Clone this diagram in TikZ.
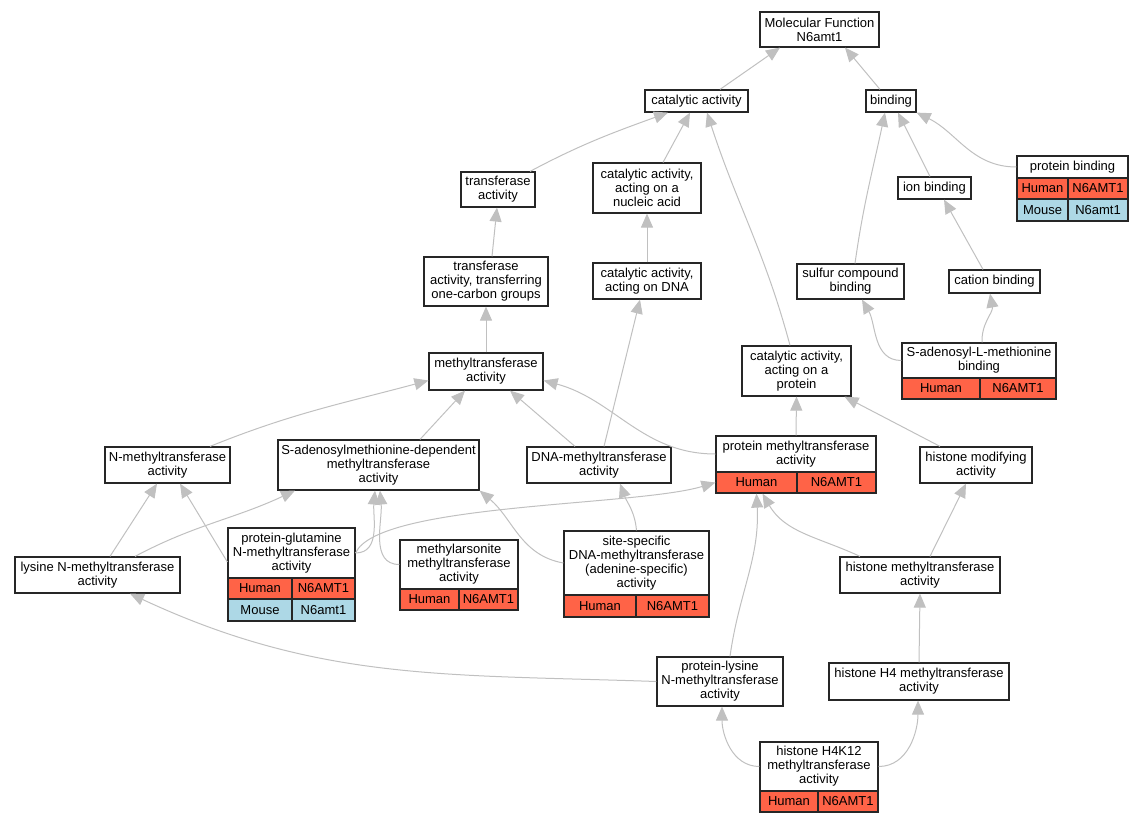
\documentclass[tikz,border=0pt]{standalone}
\usepackage{fontspec}
\setmainfont{Liberation Sans}
\usetikzlibrary{arrows.meta}
\definecolor{human}{HTML}{FF6347}
\definecolor{mouse}{HTML}{ADD8E6}
\definecolor{edgegray}{HTML}{C0C0C0}
\newcommand*{\GeneCells}[5]{% #1 = name, #2/#3/#4 = left/split/right x, #5 = list of ytop/ybot/color/species/gene
  \foreach \yt/\yb/\col/\sp/\gn [count=\i] in {#5} {
    \node [cell, fill=\col, minimum width={#3-#2}, minimum height={\yb-\yt}]
      (#1-s\i) at ({(#2+#3)/2},{-(\yt+\yb)/2}) {\sp};
    \node [cell, fill=\col, minimum width={#4-#3}, minimum height={\yb-\yt}]
      (#1-g\i) at ({(#3+#4)/2},{-(\yt+\yb)/2}) {\gn};
    }%
}

\begin{document}
\begin{tikzpicture}[x=1pt,y=1pt,
    term/.style={draw=black!85, line width=1.2pt, fill=white, align=center,
      inner sep=0pt, font=\fontsize{13}{14}\selectfont},
    cell/.style={term},
    isa/.style={draw=edgegray, line width=1pt, -{Triangle[length=14pt,width=12pt,fill=edgegray]}}]
        \useasboundingbox (0,0) rectangle (1144,-824);
        % terms
        \node[term, minimum width=119, minimum height=35] (mf) at (819.5,-29.5) {Molecular Function\\N6amt1};
        \node[term, minimum width=103, minimum height=22] (cat) at (696.5,-101) {catalytic activity};
        \node[term, minimum width=50, minimum height=22] (bind) at (891,-101) {binding};
        \node[term, minimum width=74, minimum height=35] (trans) at (498,-189.5) {transferase\\activity};
        \node[term, minimum width=108, minimum height=50] (nucl) at (647,-188) {catalytic activity,\\acting on a\\nucleic acid};
        \node[term, minimum width=73, minimum height=22] (ionb) at (934.5,-188) {ion binding};
        \node[term, minimum width=124, minimum height=49] (onec) at (486,-281.5) {transferase\\activity, transferring\\one-carbon groups};
        \node[term, minimum width=108, minimum height=36] (dna) at (647,-281) {catalytic activity,\\acting on DNA};
        \node[term, minimum width=107, minimum height=35] (sulf) at (850.5,-281.5) {sulfur compound\\binding};
        \node[term, minimum width=91, minimum height=23] (catb) at (994.5,-281.5) {cation binding};
        \node[term, minimum width=114, minimum height=37] (meth) at (486,-371.5) {methyltransferase\\activity};
        \node[term, minimum width=109, minimum height=50] (prot) at (796.5,-371) {catalytic activity,\\acting on a\\protein};
        \node[term, minimum width=125, minimum height=36] (nmeth) at (167.5,-465) {N-methyltransferase\\activity};
        \node[term, minimum width=201, minimum height=50] (sam) at (378.5,-465) {S-adenosylmethionine-dependent\\methyltransferase\\activity};
        \node[term, minimum width=144, minimum height=36] (dnam) at (599,-465) {DNA-methyltransferase\\activity};
        \node[term, minimum width=112, minimum height=36] (hmod) at (976,-465) {histone modifying\\activity};
        \node[term, minimum width=165, minimum height=36] (lys) at (97.5,-575) {lysine N-methyltransferase\\activity};
        \node[term, minimum width=160, minimum height=36] (hmt) at (920,-575) {histone methyltransferase\\activity};
        \node[term, minimum width=126, minimum height=49] (plys) at (720,-681.5) {protein-lysine\\N-methyltransferase\\activity};
        \node[term, minimum width=180, minimum height=37] (h4) at (919,-681.5) {histone H4 methyltransferase\\activity};
        % terms with genes
        \node[term, minimum width=111, minimum height=22] (pbind) at (1072.5,-167) {protein binding};
        \GeneCells{pbind}{1017}{1068}{1128}{178/199/human/Human/N6AMT1, 199/221/mouse/Mouse/N6amt1}
        \node[term, minimum width=154, minimum height=35] (samb) at (979,-360.5) {S-adenosyl-L-methionine\\binding};
        \GeneCells{samb}{902}{980}{1056}{378/399/human/Human/N6AMT1}
        \node[term, minimum width=160, minimum height=36] (pmt) at (796,-454) {protein methyltransferase\\activity};
        \GeneCells{pmt}{716}{797}{876}{472/493/human/Human/N6AMT1}
        \node[term, minimum width=127, minimum height=50] (pgln) at (291.5,-553) {protein-glutamine\\N-methyltransferase\\activity};
        \GeneCells{pgln}{228}{292}{355}{578/599/human/Human/N6AMT1, 599/621/mouse/Mouse/N6amt1}
        \node[term, minimum width=118, minimum height=49] (mars) at (459,-564.5) {methylarsonite\\methyltransferase\\activity};
        \GeneCells{mars}{400}{459}{518}{589/610/human/Human/N6AMT1}
        \node[term, minimum width=145, minimum height=64] (ssd) at (636.5,-563) {site-specific\\DNA-methyltransferase\\(adenine-specific)\\activity};
        \GeneCells{ssd}{564}{636}{709}{595/617/human/Human/N6AMT1}
        \node[term, minimum width=118, minimum height=49] (h4k) at (819,-766.5) {histone H4K12\\methyltransferase\\activity};
        \GeneCells{h4k}{760}{818}{878}{791/812/human/Human/N6AMT1}
        % is_a links
        \draw[isa] ([xshift=23.5]cat.north) -- ([xshift=-39.5]mf.south);
        \draw[isa] ([xshift=-11]bind.north) -- ([xshift=25.5]mf.south);
        \draw[isa] ([xshift=32]trans.north) to[out=28,in=200] ([xshift=-28.5]cat.south);
        \draw[isa] ([xshift=16]nucl.north) -- ([xshift=-6.5]cat.south);
        \draw[isa] ([xshift=-6.5]prot.north) to[out=105,in=-72] ([xshift=10.5]cat.south);
        \draw[isa] ([xshift=4.5]sulf.north) to[out=82,in=-102] ([xshift=-6]bind.south);
        \draw[isa] ([xshift=-4.5]ionb.north) -- ([xshift=7]bind.south);
        \draw[isa] (pbind.west) to[out=180,in=-26] (bind.south east);
        \draw[isa] ([xshift=-11.5]catb.north) -- ([xshift=9.5]ionb.south);
        \draw[isa] ([xshift=6]onec.north) -- ([xshift=-1]trans.south);
        \draw[isa] (dna.north) -- (nucl.south);
        \draw[isa] (samb.west) to[out=180,in=-60] ([xshift=11.5]sulf.south);
        \draw[isa] ([xshift=3]samb.north) to[out=92,in=-80] ([xshift=-4.5]catb.south);
        \draw[isa] (meth.north) -- (onec.south);
        \draw[isa] ([xshift=5]dnam.north) -- ([xshift=-7]dna.south);
        \draw[isa] (pmt.north) -- (prot.south);
        \draw[isa] ([xshift=-36]hmod.north) -- ([xshift=48]prot.south);
        \draw[isa] ([xshift=42.5]nmeth.north) to[out=22,in=195] ([yshift=-9]meth.west);
        \draw[isa] ([xshift=41.5]sam.north) -- ([xshift=-21]meth.south);
        \draw[isa] ([xshift=-24]dnam.north) -- ([xshift=24]meth.south);
        \draw[isa] (pmt.west) to[out=180,in=-15] ([yshift=-9]meth.east);
        \draw[isa] ([xshift=12.5]lys.north) -- ([xshift=-10.5]nmeth.south);
        \draw[isa] ([xshift=37.5]lys.north) to[out=28,in=205] ([xshift=-83.5]sam.south);
        \draw[isa] ([yshift=-9]pgln.west) -- ([xshift=12.5]nmeth.south);
        \draw[isa] (pgln.east) to[out=0,in=-95] ([xshift=-3.5]sam.south);
        \draw[isa] (pgln.east) .. controls ([xshift=22,yshift=50]pgln.east)
          and ([xshift=-80,yshift=-24]pmt-s1.west) .. (pmt-s1.west);
        \draw[isa] (mars.west) to[out=180,in=-85] ([xshift=1.5]sam.south);
        \draw[isa] (ssd.west) to[out=170,in=-40] (sam.south east);
        \draw[isa] (ssd.north) to[out=95,in=-70] ([xshift=21]dnam.south);
        \draw[isa] (plys.west) to[out=178,in=-25] ([xshift=32.5]lys.south);
        \draw[isa] ([xshift=10]plys.north) to[out=82,in=-87] (pmt-s1.south);
        \draw[isa] ([xshift=-60]hmt.north) to[out=155,in=-60] ([xshift=6]pmt-s1.south);
        \draw[isa] ([xshift=10]hmt.north) -- ([xshift=-10]hmod.south);
        \draw[isa] (h4.north) -- (hmt.south);
        \draw[isa] (h4k.west) to[out=180,in=-90] ([xshift=2]plys.south);
        \draw[isa] (h4k.east) to[out=0,in=-90] ([xshift=-1]h4.south);
\end{tikzpicture}
\end{document}
